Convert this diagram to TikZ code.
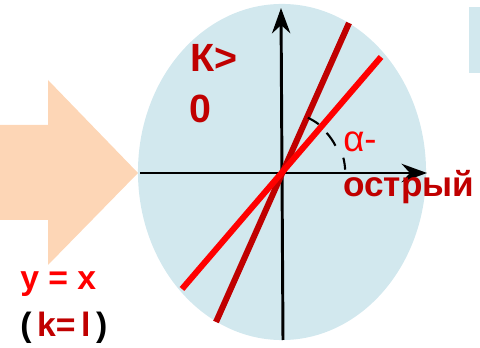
\documentclass[tikz,border=0pt]{standalone}
\usepackage{fontspec}
\setmainfont{Liberation Sans}
\usetikzlibrary{arrows.meta}
\definecolor{skyfill}{RGB}{210,232,238}
\definecolor{peach}{RGB}{253,214,182}
\definecolor{darkred}{RGB}{192,0,0}

\begin{document}
\begin{tikzpicture}[x=0.025cm, y=0.025cm,
    axis/.style={line width=2.1pt, -{Stealth[length=18pt, width=13pt]}},
    slope/.style={line width=4.3pt},
    tick/.style={line width=1.5pt},
    lbl/.style={anchor=base west, inner sep=0pt, font=\bfseries\fontsize{28}{30}\selectfont, text=darkred},
    formula/.style={anchor=base west, inner sep=0pt, font=\bfseries\fontsize{24}{28}\selectfont}
  ]
  \useasboundingbox (0,0) rectangle (480,348);
  % background shapes
  \fill[peach] (0,128) -- (48,128) -- (48,83) -- (138,175) -- (48,268) -- (48,223) -- (0,223) -- cycle;
  \fill[skyfill] (469,275) rectangle (480,341);
  \fill[skyfill] (282,176) ellipse [x radius=3.6cm, y radius=4.2cm];

  % axes
  \coordinate (o) at (282,175);
  \coordinate (xl) at (140,175);
  \coordinate (xr) at (427,175);
  \coordinate (yb) at (283,8);
  \coordinate (yt) at (281,340);
  \draw[axis] (xl) -- (xr);
  \draw[axis] (yb) -- (yt);

  % the two lines
  \coordinate (s1) at (216,26);
  \coordinate (e1) at (349,325);
  \coordinate (s2) at (182,59);
  \coordinate (e2) at (381,291);
  \draw[slope, darkred] (s1) -- (e1);
  \draw[slope, red] (s2) -- (e2);

  % angle marks
  \draw[tick] (o) ++(65:1.525cm) arc[start angle=65, end angle=53, radius=1.525cm];
  \draw[tick] (o) ++(42:1.5cm) arc[start angle=42, end angle=27, radius=1.5cm];
  \draw[tick] (o) ++(14:1.58cm) arc[start angle=14, end angle=3, radius=1.58cm];

  % labels
  \node[lbl] (kgt) at (190,276) {К>};
  \node[lbl] (zero) at (189,225) {0};
  \node[lbl, text=red, font=\fontsize{26}{30}\selectfont] (alpha) at (343,196) {α-};
  \node[lbl, font=\bfseries\fontsize{25}{30}\selectfont] (ostr) at (343,151) {острый};
  \node[formula, text=red] (yx) at (20,58) {y = x};
  \node[formula] (keq) at (20,11) {(\,\textcolor{darkred}{k=\,l}\,)};
\end{tikzpicture}
\end{document}
